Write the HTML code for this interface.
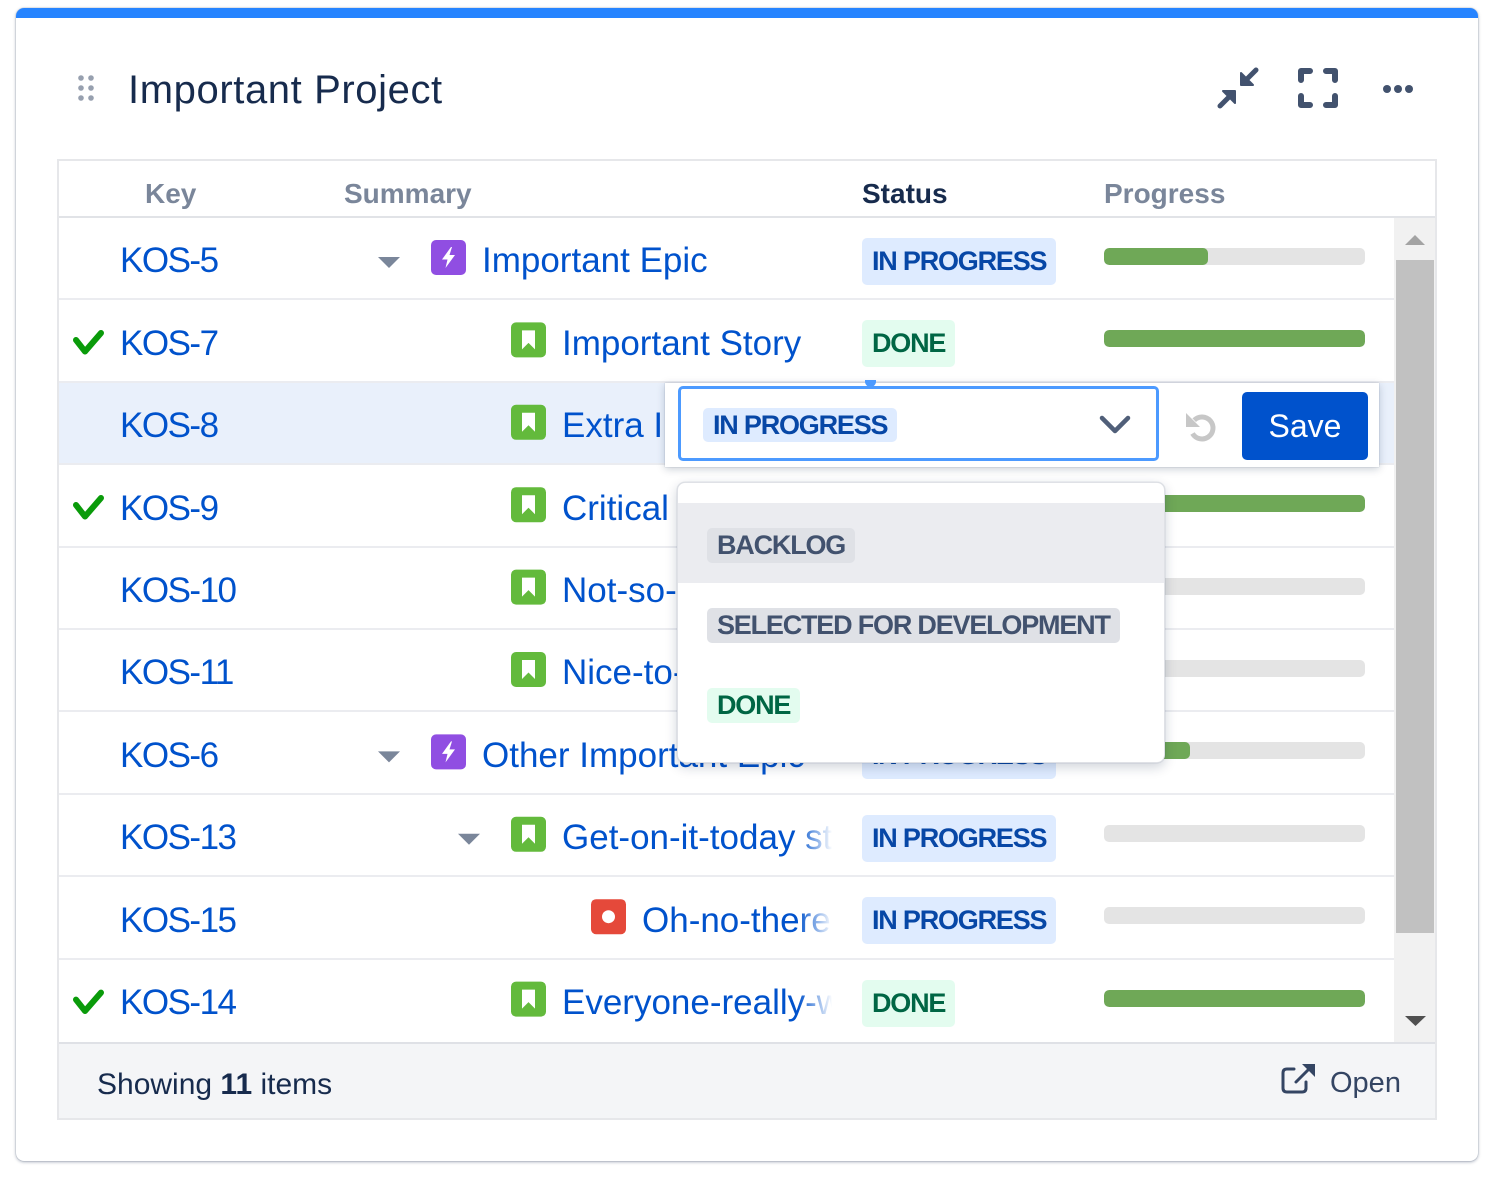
<!DOCTYPE html>
<html><head><meta charset="utf-8">
<style>
*{margin:0;padding:0;box-sizing:border-box}
html,body{width:1489px;height:1181px;overflow:hidden;background:#fff;font-family:"Liberation Sans",Arial,sans-serif}
.a{position:absolute}
#card{left:16px;top:8px;width:1462px;height:1153px;border-radius:8px;background:#fff;box-shadow:0 1px 3px rgba(9,30,66,.35),0 0 1px rgba(9,30,66,.4);overflow:hidden}
#bar{left:0;top:0;width:1462px;height:10px;background:#2684ff}
.title{left:128px;top:70px;font-size:40px;line-height:40px;letter-spacing:0.6px;color:#172b4d;white-space:nowrap}
#tbl{left:57px;top:159px;width:1380px;height:961px;border:2px solid #e6e7ea}
.hd{font-size:28px;line-height:28px;font-weight:bold;color:#7a869a;top:180px;white-space:nowrap}
.key{left:120px;font-size:35px;line-height:35px;color:#0052cc;white-space:nowrap;letter-spacing:-1.5px}
.sum{font-size:35px;line-height:35px;color:#0052cc;white-space:nowrap;overflow:hidden;height:42px}
.loz{left:862px;height:47px;line-height:47px;padding:0 10px;border-radius:5px;font-weight:bold;font-size:27px;letter-spacing:-1.2px;white-space:nowrap}
.ip{background:#deebff;color:#0747a6}
.dn{background:#e3fcef;color:#006644}
.gy{background:#dfe1e6;color:#42526e}
.pb{left:1104px;width:261px;height:17px;border-radius:5px;background:#e4e4e4;overflow:hidden}
.pb i{display:block;height:17px;background:#6fa857;border-radius:5px}
.sep{left:59px;width:1335px;height:2px;background:#ebecf0}
.fade{left:798px;width:38px;height:78px;background:linear-gradient(to right,rgba(255,255,255,0),#fff 90%)}
</style></head><body>
<div id="card" class="a"><div id="bar" class="a"></div></div>

<svg class="a" style="left:0;top:0" width="1489" height="1181">
<g fill="#97a0af">
<circle cx="81" cy="78" r="2.8"/><circle cx="91" cy="78" r="2.8"/>
<circle cx="81" cy="88" r="2.8"/><circle cx="91" cy="88" r="2.8"/>
<circle cx="81" cy="98" r="2.8"/><circle cx="91" cy="98" r="2.8"/>
</g>
<!-- collapse icon -->
<g stroke="#42526e" stroke-linecap="round" stroke-linejoin="round" fill="#42526e">
<line x1="1246" y1="80" x2="1256" y2="70" stroke-width="5"/>
<polygon points="1241,73 1241,85 1253,85" stroke-width="2"/>
<line x1="1230" y1="96" x2="1220" y2="106" stroke-width="5"/>
<polygon points="1235,91 1223,91 1235,103" stroke-width="2"/>
</g>
<g stroke="#42526e" stroke-width="6" stroke-linecap="round" stroke-linejoin="round" fill="none">
<path d="M1301,80 V71 H1310"/><path d="M1326,71 H1335 V80"/>
<path d="M1335,96 V105 H1326"/><path d="M1310,105 H1301 V96"/>
</g>
<g fill="#42526e"><circle cx="1387" cy="89" r="4"/><circle cx="1398" cy="89" r="4"/><circle cx="1409" cy="89" r="4"/></g>
</svg>
<div class="a title">Important Project</div>

<div id="tbl" class="a"></div>
<div class="a" style="left:59px;top:216px;width:1376px;height:2px;background:#e1e3e7"></div>
<div class="a hd" style="left:145px">Key</div>
<div class="a hd" style="left:344px">Summary</div>
<div class="a hd" style="left:862px;color:#172b4d">Status</div>
<div class="a hd" style="left:1104px">Progress</div>

<div class="a" style="left:59px;top:382.8px;width:1335px;height:80.4px;background:#e9f0fb"></div>

<div class="a sep" style="top:298.4px"></div>
<div class="a sep" style="top:380.8px"></div>
<div class="a sep" style="top:463.2px"></div>
<div class="a sep" style="top:545.6px"></div>
<div class="a sep" style="top:628px"></div>
<div class="a sep" style="top:710.4px"></div>
<div class="a sep" style="top:792.8px"></div>
<div class="a sep" style="top:875.2px"></div>
<div class="a sep" style="top:957.6px"></div>

<div class="a key" style="top:243.4px">KOS-5</div>
<div class="a key" style="top:325.8px">KOS-7</div>
<div class="a key" style="top:408.2px">KOS-8</div>
<div class="a key" style="top:490.6px">KOS-9</div>
<div class="a key" style="top:573px">KOS-10</div>
<div class="a key" style="top:655.4px">KOS-11</div>
<div class="a key" style="top:737.8px">KOS-6</div>
<div class="a key" style="top:820.2px">KOS-13</div>
<div class="a key" style="top:902.6px">KOS-15</div>
<div class="a key" style="top:985px">KOS-14</div>

<div class="a sum" style="left:482px;top:243.4px;width:351px">Important Epic</div>
<div class="a sum" style="left:562px;top:325.8px;width:271px">Important Story</div>
<div class="a sum" style="left:562px;top:408.2px;width:271px">Extra Important Story</div>
<div class="a sum" style="left:562px;top:490.6px;width:271px">Critical story</div>
<div class="a sum" style="left:562px;top:573px;width:271px">Not-so-important story</div>
<div class="a sum" style="left:562px;top:655.4px;width:271px">Nice-to-have story</div>
<div class="a sum" style="left:482px;top:737.8px;width:351px">Other Important Epic</div>
<div class="a sum" style="left:562px;top:820.2px;width:271px">Get-on-it-today story</div>
<div class="a sum" style="left:642px;top:902.6px;width:191px">Oh-no-there-is-a-bug</div>
<div class="a sum" style="left:562px;top:985px;width:271px">Everyone-really-wants-this</div>

<div class="a fade" style="top:220px"></div>
<div class="a fade" style="top:302.4px"></div>
<div class="a fade" style="top:467.2px"></div>
<div class="a fade" style="top:549.6px"></div>
<div class="a fade" style="top:632px"></div>
<div class="a fade" style="top:714.4px"></div>
<div class="a fade" style="top:796.8px"></div>
<div class="a fade" style="top:879.2px"></div>
<div class="a fade" style="top:961.6px"></div>

<svg class="a" style="left:0;top:0" width="1489" height="1181">
<defs>
<g id="epic"><rect width="35" height="35" rx="5" fill="#904ee2"/><polygon points="20,7 11,19.5 16.5,19.5 14.5,28 24,15 18.5,15 21,7" fill="#fff"/></g>
<g id="story"><rect width="35" height="35" rx="5" fill="#63ba3c"/><polygon points="11,8 24,8 24,27 17.5,20.5 11,27" fill="#fff"/></g>
<g id="bug"><rect width="35" height="35" rx="5" fill="#e5493a"/><circle cx="17.5" cy="17.5" r="6.5" fill="#fff"/></g>
</defs>
<g fill="#7a869a">
<polygon points="378,257 400,257 389,268"/>
<polygon points="378,751.4 400,751.4 389,762.4"/>
<polygon points="458,833.8 480,833.8 469,844.8"/>
</g>
<use href="#epic" x="431" y="240"/>
<use href="#story" x="511" y="322.4"/>
<use href="#story" x="511" y="404.8"/>
<use href="#story" x="511" y="487.2"/>
<use href="#story" x="511" y="569.6"/>
<use href="#story" x="511" y="652"/>
<use href="#epic" x="431" y="734.4"/>
<use href="#story" x="511" y="816.8"/>
<use href="#bug" x="591" y="899.2"/>
<use href="#story" x="511" y="981.6"/>
<g stroke="#0a9b0a" stroke-width="6" fill="none" stroke-linecap="round" stroke-linejoin="round">
<polyline points="76,340 85,351.5 101,333"/>
<polyline points="76,505 85,516.5 101,498"/>
<polyline points="76,999.6 85,1011 101,992.6"/>
</g>
</svg>

<div class="a loz ip" style="top:238px">IN PROGRESS</div>
<div class="a loz dn" style="top:320.4px">DONE</div>
<div class="a loz dn" style="top:485.2px">DONE</div>
<div class="a loz ip" style="top:732.4px">IN PROGRESS</div>
<div class="a loz ip" style="top:814.8px">IN PROGRESS</div>
<div class="a loz ip" style="top:897.2px">IN PROGRESS</div>
<div class="a loz dn" style="top:979.6px">DONE</div>

<div class="a pb" style="top:248px"><i style="width:104px"></i></div>
<div class="a pb" style="top:330.4px"><i style="width:261px"></i></div>
<div class="a pb" style="top:412.8px"><i style="width:261px"></i></div>
<div class="a pb" style="top:495.2px"><i style="width:261px"></i></div>
<div class="a pb" style="top:577.6px"></div>
<div class="a pb" style="top:660px"></div>
<div class="a pb" style="top:742.4px"><i style="width:86px"></i></div>
<div class="a pb" style="top:824.8px"></div>
<div class="a pb" style="top:907.2px"></div>
<div class="a pb" style="top:989.6px"><i style="width:261px"></i></div>

<div class="a" style="left:1394px;top:218px;width:41px;height:824px;background:#f1f1f1"></div>
<div class="a" style="left:1396px;top:260px;width:38px;height:673px;background:#c1c1c1"></div>
<svg class="a" style="left:0;top:0" width="1489" height="1181">
<polygon points="1405,245 1425,245 1415,235" fill="#a3a3a3"/>
<polygon points="1405,1016 1426,1016 1415.5,1026" fill="#505050"/>
</svg>

<div class="a" style="left:59px;top:1042px;width:1376px;height:76px;background:#f4f5f7;border-top:2px solid #dfe1e6"></div>
<div class="a" style="left:97px;top:1069.6px;font-size:30px;line-height:30px;color:#172b4d;white-space:nowrap">Showing <b>11</b> items</div>
<div class="a" style="left:1330px;top:1068.5px;font-size:29px;line-height:29px;color:#344563;white-space:nowrap">Open</div>
<svg class="a" style="left:0;top:0" width="1489" height="1181">
<g stroke="#344563" stroke-width="3" fill="none" stroke-linecap="round" stroke-linejoin="round">
<path d="M1294,1069 H1287 Q1283,1069 1283,1073 V1088 Q1283,1092 1287,1092 H1302 Q1306,1092 1306,1088 V1082"/>
<path d="M1296,1082 L1310,1068"/>
</g>
<polygon points="1302,1064 1315,1064 1315,1077" fill="#344563"/>
</svg>

<div class="a" style="left:665px;top:383px;width:714px;height:84px;background:#fff;box-shadow:0 2px 8px rgba(9,30,66,.22),0 0 1px rgba(9,30,66,.3)"></div>
<div class="a" style="left:865px;top:380px;width:11px;height:7px;background:#4c9aff;border-radius:0 0 6px 6px"></div>
<div class="a" style="left:678px;top:386px;width:481px;height:75px;border:3px solid #4c9aff;border-radius:5px;background:#fff"></div>
<div class="a loz ip" style="left:703px;top:408px;height:34px;line-height:34px;width:194px">IN PROGRESS</div>
<svg class="a" style="left:0;top:0" width="1489" height="1181">
<polyline points="1102,418 1115,431 1128,418" stroke="#505f79" stroke-width="4.5" fill="none" stroke-linecap="round" stroke-linejoin="round"/>
<path d="M1194.2,420.2 A11,11 0 1 1 1192.5,433.5" stroke="#c7c7c7" stroke-width="5" fill="none"/>
<polygon points="1186,413 1186,427 1200,427" fill="#c7c7c7"/>
</svg>
<div class="a" style="left:1242px;top:392px;width:126px;height:68px;background:#0052cc;border-radius:5px;color:#fff;font-size:32px;line-height:68px;text-align:center">Save</div>

<div class="a" style="left:677px;top:482px;width:488px;height:281px;background:#fff;border:1px solid #dfe1e6;border-radius:8px;box-shadow:0 4px 12px rgba(9,30,66,.2),0 0 1px rgba(9,30,66,.3);overflow:hidden">
<div class="a" style="left:0;top:20px;width:488px;height:80px;background:#ebecf0"></div>
</div>
<div class="a loz gy" style="left:707px;top:528px;height:35px;line-height:35px">BACKLOG</div>
<div class="a loz gy" style="left:707px;top:608px;height:35px;line-height:35px">SELECTED FOR DEVELOPMENT</div>
<div class="a loz dn" style="left:707px;top:688px;height:35px;line-height:35px">DONE</div>
</body></html>
